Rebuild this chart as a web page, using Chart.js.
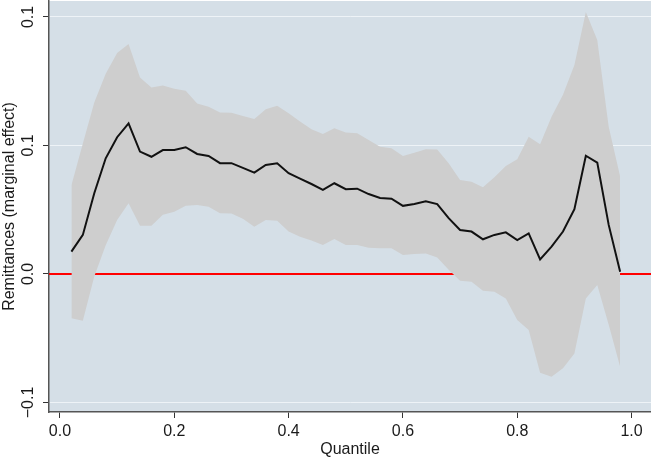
<!DOCTYPE html>
<html>
<head>
<meta charset="utf-8">
<script src="https://cdn.jsdelivr.net/npm/chart.js@4.4.1/dist/chart.umd.min.js"></script>
<style>
  html, body { margin: 0; padding: 0; background: #fff; }
  #wrap { width: 651px; height: 459px; }
</style>
</head>
<body>
<div id="wrap"><canvas id="qreg" width="651" height="459"></canvas></div>
<script>
// quantiles and estimated coefficient with its confidence band
const quantiles = [0.02, 0.04, 0.06, 0.08, 0.10, 0.12, 0.14, 0.16, 0.18, 0.20,
  0.22, 0.24, 0.26, 0.28, 0.30, 0.32, 0.34, 0.36, 0.38, 0.40,
  0.42, 0.44, 0.46, 0.48, 0.50, 0.52, 0.54, 0.56, 0.58, 0.60,
  0.62, 0.64, 0.66, 0.68, 0.70, 0.72, 0.74, 0.76, 0.78, 0.80,
  0.82, 0.84, 0.86, 0.88, 0.90, 0.92, 0.94, 0.96, 0.98];

const coef = [0.0087, 0.0152, 0.0314, 0.0450, 0.0532, 0.0586, 0.0476, 0.0456, 0.0482, 0.0482,
  0.0493, 0.0467, 0.0459, 0.0431, 0.0431, 0.0413, 0.0394, 0.0424, 0.0431, 0.0392,
  0.0371, 0.0350, 0.0327, 0.0353, 0.0330, 0.0332, 0.0311, 0.0296, 0.0293, 0.0265,
  0.0272, 0.0283, 0.0272, 0.0217, 0.0171, 0.0165, 0.0135, 0.0152, 0.0162, 0.0132,
  0.0158, 0.0057, 0.0106, 0.0165, 0.0252, 0.0460, 0.0433, 0.0191, 0.0009];

const upper = [0.0345, 0.0508, 0.0667, 0.0779, 0.0860, 0.0895, 0.0764, 0.0725, 0.0733, 0.0721,
  0.0713, 0.0663, 0.0651, 0.0628, 0.0627, 0.0615, 0.0603, 0.0641, 0.0654, 0.0625,
  0.0593, 0.0563, 0.0545, 0.0567, 0.0550, 0.0547, 0.0521, 0.0495, 0.0489, 0.0459,
  0.0472, 0.0485, 0.0484, 0.0431, 0.0366, 0.0359, 0.0337, 0.0376, 0.0420, 0.0446,
  0.0534, 0.0505, 0.0612, 0.0697, 0.0813, 0.1019, 0.0910, 0.0573, 0.0379];

const lower = [-0.0172, -0.0182, -0.0010, 0.0112, 0.0210, 0.0275, 0.0188, 0.0188, 0.0230, 0.0242,
  0.0265, 0.0268, 0.0262, 0.0236, 0.0235, 0.0215, 0.0184, 0.0210, 0.0207, 0.0165,
  0.0145, 0.0130, 0.0113, 0.0136, 0.0113, 0.0113, 0.0102, 0.0100, 0.0100, 0.0074,
  0.0078, 0.0080, 0.0064, 0.0016, -0.0026, -0.0030, -0.0065, -0.0069, -0.0095, -0.0179,
  -0.0218, -0.0384, -0.0400, -0.0367, -0.0309, -0.0095, -0.0043, -0.0198, -0.0361];

// axis ticks (the y labels are rounded to one decimal, as in the original)
const xTicks = [0, 0.2, 0.4, 0.6, 0.8, 1.0];
const xTickLabels = ["0.0", "0.2", "0.4", "0.6", "0.8", "1.0"];
const yTicks = [-0.05, 0, 0.05, 0.1];
const yTickLabels = ["\u22120.1", "0.0", "0.1", "0.1"];

const xMin = -0.0192, xMax = 1.034;
const yMin = -0.0537, yMax = 0.1062;

const toXY = (ys) => quantiles.map((q, i) => ({ x: q, y: ys[i] }));

const FONT = '"Liberation Sans", Arial, sans-serif';

// plot background + all the texts
const plotDecor = {
  id: "plotDecor",
  beforeDraw(chart) {
    const { ctx, chartArea: a } = chart;
    ctx.save();
    ctx.fillStyle = "#d5dfe7";
    ctx.fillRect(a.left, a.top, a.right - a.left, a.bottom - a.top);
    ctx.restore();
  },
  afterDraw(chart) {
    const { ctx, chartArea: a } = chart;
    const xs = chart.scales.x, ys = chart.scales.y;
    ctx.save();
    ctx.fillStyle = "#1a1a1a";
    ctx.font = "16px " + FONT;

    // x tick labels
    ctx.textAlign = "center";
    ctx.textBaseline = "middle";
    xTicks.forEach((v, i) => {
      ctx.fillText(xTickLabels[i], xs.getPixelForValue(v), 432);
    });
    ctx.fillText("Quantile", (a.left + a.right) / 2, 450);

    // y tick labels, rotated
    yTicks.forEach((v, i) => {
      ctx.save();
      ctx.translate(29, ys.getPixelForValue(v));
      ctx.rotate(-Math.PI / 2);
      ctx.fillText(yTickLabels[i], 0, 0);
      ctx.restore();
    });

    // y title
    ctx.save();
    ctx.translate(10, (a.top + a.bottom) / 2);
    ctx.rotate(-Math.PI / 2);
    ctx.fillText("Remittances (marginal effect)", 0, 0);
    ctx.restore();
    ctx.restore();
  }
};

new Chart(document.getElementById("qreg"), {
  type: "line",
  data: {
    datasets: [
      {
        label: "coef",
        data: toXY(coef),
        borderColor: "#111",
        borderWidth: 2,
        pointRadius: 0,
        tension: 0,
        fill: false,
        order: 0
      },
      {
        label: "upper",
        data: toXY(upper),
        borderWidth: 0,
        borderColor: "rgba(0,0,0,0)",
        backgroundColor: "#cecece",
        pointRadius: 0,
        tension: 0,
        fill: "+1",
        order: 1
      },
      {
        label: "lower",
        data: toXY(lower),
        borderWidth: 0,
        borderColor: "rgba(0,0,0,0)",
        pointRadius: 0,
        tension: 0,
        fill: false,
        order: 1
      },
      {
        label: "zero",
        data: [{ x: xMin, y: 0 }, { x: xMax, y: 0 }],
        borderColor: "#ff0000",
        borderWidth: 2,
        pointRadius: 0,
        fill: false,
        order: 2
      }
    ]
  },
  options: {
    responsive: false,
    animation: false,
    layout: { padding: { top: 1, right: 0, left: 0, bottom: 0 } },
    plugins: {
      legend: { display: false },
      tooltip: { enabled: false }
    },
    scales: {
      x: {
        type: "linear",
        min: xMin,
        max: xMax,
        afterBuildTicks: (s) => { s.ticks = xTicks.map(v => ({ value: v })); },
        afterFit: (s) => { s.height = 47; },
        ticks: { display: false },
        grid: {
          drawOnChartArea: false,
          drawTicks: true,
          tickLength: 6,
          color: "#333",
          lineWidth: 1
        },
        border: { display: true, color: "#555", width: 1.5 }
      },
      y: {
        type: "linear",
        min: yMin,
        max: yMax,
        afterBuildTicks: (s) => { s.ticks = yTicks.map(v => ({ value: v })); },
        afterFit: (s) => { s.width = 49; },
        ticks: { display: false },
        grid: {
          drawOnChartArea: true,
          drawTicks: true,
          tickLength: 6,
          color: "#eef3f7",
          tickColor: "#333",
          lineWidth: 1
        },
        border: { display: true, color: "#555", width: 1.5 }
      }
    }
  },
  plugins: [plotDecor]
});
</script>
</body>
</html>
